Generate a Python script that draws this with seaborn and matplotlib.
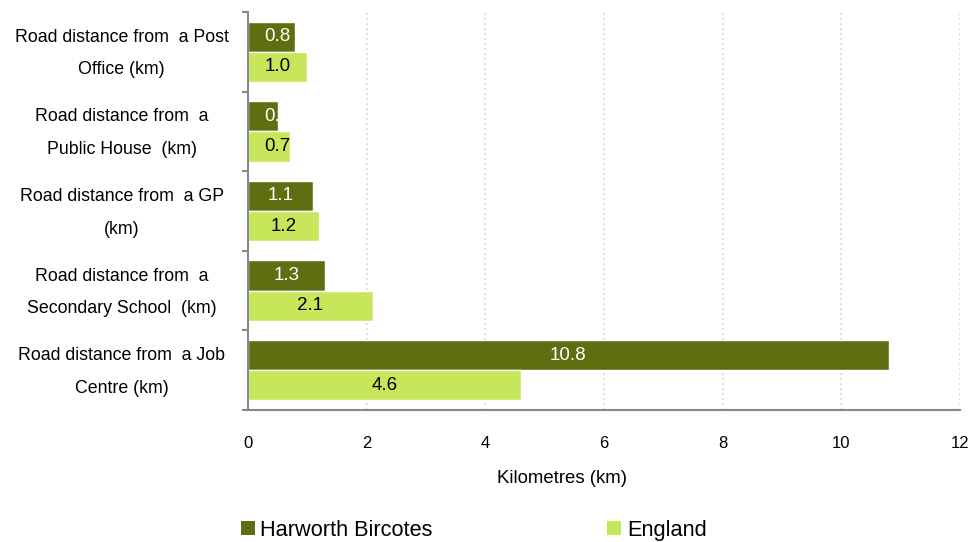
import pandas as pd
import seaborn as sns
import matplotlib.pyplot as plt
import matplotlib.transforms as mtransforms
import numpy as np
from matplotlib.patches import Patch

# Data
categories = [
    'Road distance from  a Post\nOffice (km)',
    'Road distance from  a\nPublic House  (km)',
    'Road distance from  a GP\n(km)',
    'Road distance from  a\nSecondary School  (km)',
    'Road distance from  a Job\nCentre (km)',
]
series = ['Harworth Bircotes', 'England']
harworth = [0.8, 0.5, 1.1, 1.3, 10.8]
england = [1.0, 0.7, 1.2, 2.1, 4.6]
x_ticks = [0, 2, 4, 6, 8, 10, 12]

colors = ['#5e6f12', '#c8e65a']
label_colors = ['white', 'black']

df = pd.DataFrame({
    'category': categories * 2,
    'area': [series[0]] * 5 + [series[1]] * 5,
    'value': harworth + england,
})

sns.set_style('white', {'text.color': 'black', 'xtick.color': 'black',
                        'ytick.color': 'black', 'axes.labelcolor': 'black'})
plt.rcParams['font.family'] = ['Liberation Sans', 'DejaVu Sans']

fig = plt.figure(figsize=(9.71, 5.42), dpi=100)
ax = fig.add_axes([0.2554, 0.2435, 0.7333, 0.7343])

sns.barplot(data=df, x='value', y='category', hue='area', order=categories,
            hue_order=series, palette=colors, width=0.76, orient='h',
            saturation=1, legend=False, ax=ax)

# value labels, centred in bar (clipped to the bar like the original)
for i, container in enumerate(ax.containers):
    for bar, v in zip(container, [harworth, england][i]):
        y = bar.get_y() + bar.get_height() / 2
        t = ax.text(max(v / 2, 0.5), y, f'{v:.1f}', ha='center', va='center',
                    color=label_colors[i], fontsize=13.5)
        t.set_clip_path(bar)

ax.set_xlim(0, 12)
ax.set_ylim(4.5, -0.5)
ax.set_xticks(x_ticks)
ax.set_xticklabels([str(t) for t in x_ticks], fontsize=12)
ax.tick_params(axis='x', length=6, width=1.5, color='#888888', labelcolor='black',
               pad=13, direction='out')
ax.set_yticks(range(len(categories)))
ax.set_yticklabels(categories, fontsize=12.8, linespacing=2.2, ha='center')
ax.tick_params(axis='y', which='major', length=0, pad=91, labelcolor='black')
ax.set_yticks(np.arange(-0.5, 5, 1), minor=True)
ax.tick_params(axis='y', which='minor', length=4, width=1.5, color='#888888', left=True)
shift = mtransforms.ScaledTranslation(0, 8 / 100, fig.dpi_scale_trans)
for lab in ax.get_yticklabels():
    lab.set_transform(lab.get_transform() + shift)

ax.xaxis.grid(True, color='#d9d4b4', linestyle=(0, (1, 2)), linewidth=1.2)
ax.set_axisbelow(True)
for s in ['top', 'right']:
    ax.spines[s].set_visible(False)
for s in ['left', 'bottom']:
    ax.spines[s].set_color('#888888')
    ax.spines[s].set_linewidth(1.5)

ax.set_xlabel('Kilometres (km)', fontsize=13.4, color='black')
ax.xaxis.set_label_coords(0.441, -0.15)
ax.set_ylabel('')

handles = [Patch(facecolor=c, edgecolor='none') for c in colors]
fig.legend(handles, series, loc='center left', bbox_to_anchor=(0.239, 0.022),
           ncol=2, frameon=False, fontsize=15.7, handlelength=0.65, handleheight=0.65,
           handletextpad=0.25, columnspacing=8.0, borderaxespad=0, labelcolor='black')

fig.savefig('out.png', dpi=100)
